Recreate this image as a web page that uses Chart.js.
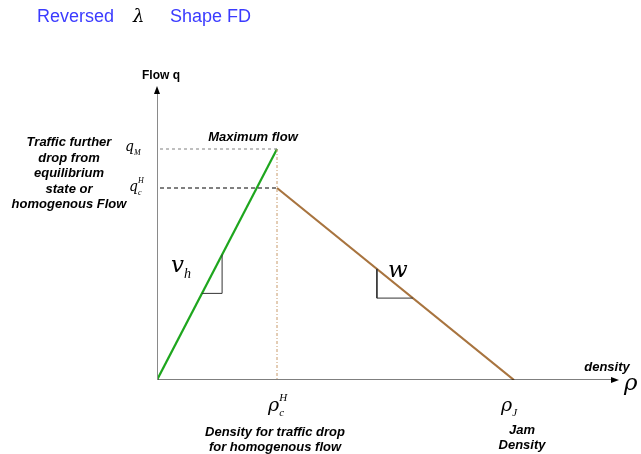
<!DOCTYPE html>
<html>
<head>
<meta charset="utf-8">
<script src="https://cdn.jsdelivr.net/npm/chart.js@4.4.1/dist/chart.umd.min.js"></script>
<style>
  html, body { margin: 0; padding: 0; background: #ffffff; }
  #wrap { width: 641px; height: 454px; position: relative; }
</style>
</head>
<body>
<div id="wrap"><canvas id="fd" width="641" height="454"></canvas></div>
<script>
// Reversed lambda fundamental diagram (flow vs density)
const densityKeys = ['rhoC', 'rhoJ'];
const densityValues = [40, 119];      // critical density (homogenous), jam density
const flowKeys = ['qM', 'qcH'];
const flowValues = [77, 64];          // maximum flow, homogenous capacity flow
const axisMax = { x: 153, y: 97 };

const rhoC = densityValues[0], rhoJ = densityValues[1];
const qM = flowValues[0], qcH = flowValues[1];

// free-flow branch (slope v_h) and congested branch (slope w)
const freeFlow = [{x: 0, y: 0}, {x: rhoC, y: qM}];
const congested = [{x: rhoC, y: qcH}, {x: rhoJ, y: 0}];

// slope triangles
const vh = qM / rhoC;
const w = qcH / (rhoJ - rhoC);
const vhTri = [{x: 15, y: vh * 15}, {x: 21.7, y: vh * 15}, {x: 21.7, y: vh * 21.7}];
const wAt = x => qcH - w * (x - rhoC);
const wTri = [{x: 73.3, y: wAt(73.3)}, {x: 73.3, y: 27.3}, {x: rhoC + (qcH - 27.3) / w, y: 27.3}];

const GREEN = '#1ea61e';
const BROWN = '#a8743f';

function seg(data, color, width, dash) {
  return {
    data, showLine: true, borderColor: color, borderWidth: width,
    borderDash: dash || [], pointRadius: 0, fill: false, tension: 0
  };
}

// text with optional subscript / superscript
function symbol(ctx, x, y, main, sub, sup, size) {
  ctx.save();
  ctx.fillStyle = '#000';
  ctx.textBaseline = 'alphabetic';
  ctx.textAlign = 'left';
  ctx.font = 'italic ' + size + 'px "DejaVu Serif", "Liberation Serif", serif';
  ctx.fillText(main, x, y);
  const mw = ctx.measureText(main).width;
  ctx.font = 'italic ' + Math.round(size * 0.6) + 'px "Liberation Serif", serif';
  if (sub) ctx.fillText(sub, x + mw, y + size * 0.25);
  if (sup) ctx.fillText(sup, x + mw, y - size * 0.55);
  ctx.restore();
}

function label(ctx, lines, cx, y0, lh, font, color, align) {
  ctx.save();
  ctx.font = font;
  ctx.fillStyle = color || '#000';
  ctx.textAlign = align || 'center';
  ctx.textBaseline = 'alphabetic';
  lines.forEach((t, i) => ctx.fillText(t, cx, y0 + i * lh));
  ctx.restore();
}

const annotations = {
  id: 'annotations',
  afterDatasetsDraw(chart) {
    const ctx = chart.ctx;
    const xs = chart.scales.x, ys = chart.scales.y;
    const px = v => xs.getPixelForValue(v), py = v => ys.getPixelForValue(v);
    const x0 = px(0), y0 = py(0);

    // arrowheads
    ctx.save();
    ctx.fillStyle = '#000';
    const ay = py(axisMax.y);
    ctx.beginPath();
    ctx.moveTo(x0, ay - 3); ctx.lineTo(x0 - 3, ay + 5); ctx.lineTo(x0 + 3, ay + 5); ctx.closePath(); ctx.fill();
    const ax = px(axisMax.x);
    ctx.beginPath();
    ctx.moveTo(ax + 3, y0); ctx.lineTo(ax - 5, y0 - 3); ctx.lineTo(ax - 5, y0 + 3); ctx.closePath(); ctx.fill();
    ctx.restore();

    // title
    ctx.save();
    ctx.font = '18px "Liberation Sans", Arial, sans-serif';
    ctx.fillStyle = '#3b3bff';
    ctx.textBaseline = 'alphabetic';
    ctx.fillText('Reversed', 37, 22);
    ctx.fillText('Shape FD', 170, 22);
    ctx.fillStyle = '#000';
    ctx.font = 'italic 18px "DejaVu Serif", serif';
    ctx.fillText('λ', 133, 22);
    ctx.restore();

    const bold = 'bold 12px "Liberation Sans", Arial, sans-serif';
    const boldIt = 'bold italic 13px "Liberation Sans", Arial, sans-serif';
    label(ctx, ['Flow q'], x0 + 4, 79, 0, bold);
    label(ctx, ['Maximum flow'], px(rhoC) - 24, 141, 0, boldIt);
    label(ctx, ['Traffic further', 'drop from', 'equilibrium', 'state or', 'homogenous Flow'], 69, 146, 15.6, boldIt);
    label(ctx, ['density'], 607, 371, 0, boldIt);
    label(ctx, ['Density for traffic drop', 'for homogenous flow'], px(rhoC) - 2, 436, 15, boldIt);
    label(ctx, ['Jam', 'Density'], px(rhoJ) + 8, 434, 15, boldIt);

    // axis symbols
    symbol(ctx, 125, py(qM) + 2, 'q', 'M', null, 14);
    symbol(ctx, 129, py(qcH) + 3, 'q', 'c', 'H', 14);
    symbol(ctx, px(rhoC) - 9, y0 + 31, 'ρ', 'c', 'H', 19);
    symbol(ctx, px(rhoJ) - 13, y0 + 31, 'ρ', 'J', null, 19);
    symbol(ctx, 624, y0 + 10, 'ρ', null, null, 23);
    symbol(ctx, 171, 272, 'v', 'h', null, 23);
    symbol(ctx, 388, 277, 'w', null, null, 23);
  }
};

new Chart(document.getElementById('fd'), {
  type: 'scatter',
  data: {
    datasets: [
      seg([{x: 0, y: 0}, {x: 0, y: axisMax.y - 1}], '#8a8a8a', 2),
      seg([{x: 0, y: 0}, {x: axisMax.x - 1, y: 0}], '#000000', 1.2),
      seg([{x: 1, y: qM}, {x: rhoC, y: qM}], '#808080', 1, [3, 3]),
      seg([{x: 1, y: qcH}, {x: rhoC, y: qcH}], '#000000', 1, [4, 3]),
      seg([{x: rhoC, y: qM}, {x: rhoC, y: 0}], '#c89a6a', 1, [3, 2, 1, 2]),
      seg(vhTri, '#333333', 1),
      seg(wTri, '#333333', 1),
      seg(freeFlow, GREEN, 2.2),
      seg(congested, BROWN, 2.2)
    ]
  },
  options: {
    responsive: false,
    animation: false,
    events: [],
    layout: { padding: { left: 157, right: 641 - 157 - 3 * 160, top: 380 - 3 * 100, bottom: 454 - 380 } },
    plugins: { legend: { display: false }, tooltip: { enabled: false } },
    scales: {
      x: { type: 'linear', min: 0, max: 160, display: false },
      y: { type: 'linear', min: 0, max: 100, display: false }
    }
  },
  plugins: [annotations]
});
</script>
</body>
</html>
